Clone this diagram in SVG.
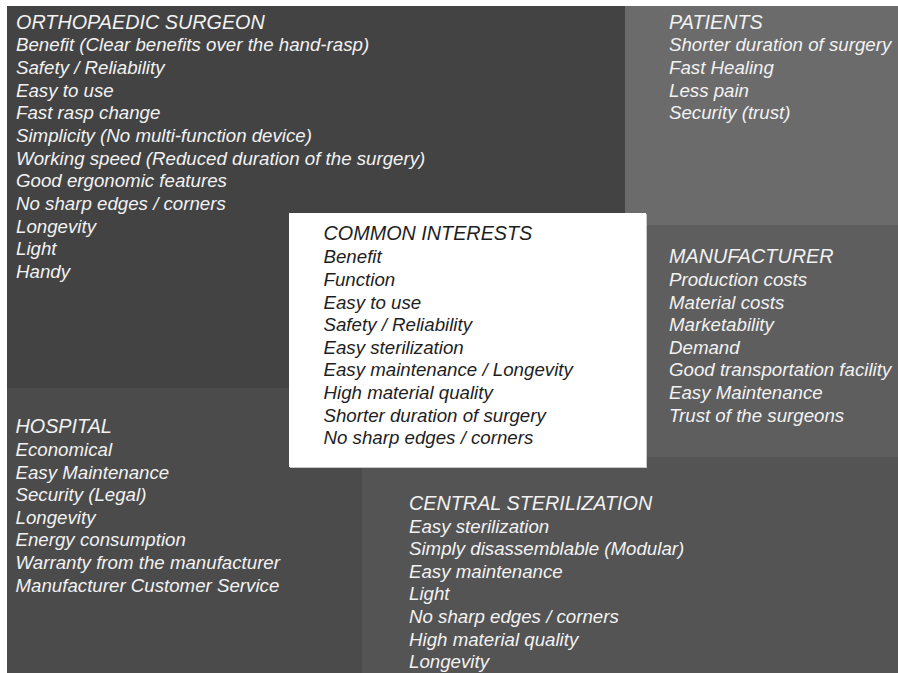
<svg xmlns="http://www.w3.org/2000/svg" width="898" height="673" viewBox="0 0 898 673">
<style>
text{font-family:"Liberation Sans",Arial,Helvetica,sans-serif;font-style:italic;font-size:18.7px;}
.lt{fill:#f2f2f2;}
.dk{fill:#1e1e1e;}
.ttl{font-size:19.8px;}
</style>
<rect x="0" y="0" width="898" height="673" fill="#ffffff"/>
<g id="orthopaedic-surgeon">
<rect x="7" y="6" width="618" height="382" fill="#434343"/>
<text class="lt ttl" x="16" y="28.5">ORTHOPAEDIC SURGEON</text>
<text class="lt" x="16" y="51.3">Benefit (Clear benefits over the hand-rasp)</text>
<text class="lt" x="16" y="74">Safety / Reliability</text>
<text class="lt" x="16" y="96.6">Easy to use</text>
<text class="lt" x="16" y="119.3">Fast rasp change</text>
<text class="lt" x="16" y="141.9">Simplicity (No multi-function device)</text>
<text class="lt" x="16" y="164.6">Working speed (Reduced duration of the surgery)</text>
<text class="lt" x="16" y="187.2">Good ergonomic features</text>
<text class="lt" x="16" y="209.9">No sharp edges / corners</text>
<text class="lt" x="16" y="232.5">Longevity</text>
<text class="lt" x="16" y="255.2">Light</text>
<text class="lt" x="16" y="277.8">Handy</text>
</g>
<g id="patients">
<rect x="625" y="6" width="273" height="219" fill="#6b6b6b"/>
<text class="lt ttl" x="669" y="28.5">PATIENTS</text>
<text class="lt" x="669" y="51.3">Shorter duration of surgery</text>
<text class="lt" x="669" y="74">Fast Healing</text>
<text class="lt" x="669" y="96.6">Less pain</text>
<text class="lt" x="669" y="119.3">Security (trust)</text>
</g>
<g id="hospital">
<rect x="7" y="388" width="355" height="285" fill="#4b4b4b"/>
<text class="lt ttl" x="15.5" y="433.3">HOSPITAL</text>
<text class="lt" x="15.5" y="456">Economical</text>
<text class="lt" x="15.5" y="478.6">Easy Maintenance</text>
<text class="lt" x="15.5" y="501.2">Security (Legal)</text>
<text class="lt" x="15.5" y="523.8">Longevity</text>
<text class="lt" x="15.5" y="546.4">Energy consumption</text>
<text class="lt" x="15.5" y="569">Warranty from the manufacturer</text>
<text class="lt" x="15.5" y="591.6">Manufacturer Customer Service</text>
</g>
<g id="central-sterilization">
<rect x="362" y="388" width="536" height="285" fill="#545454"/>
<text class="lt ttl" x="409" y="510">CENTRAL STERILIZATION</text>
<text class="lt" x="409" y="532.5">Easy sterilization</text>
<text class="lt" x="409" y="555.1">Simply disassemblable (Modular)</text>
<text class="lt" x="409" y="577.7">Easy maintenance</text>
<text class="lt" x="409" y="600.3">Light</text>
<text class="lt" x="409" y="622.9">No sharp edges / corners</text>
<text class="lt" x="409" y="645.5">High material quality</text>
<text class="lt" x="409" y="668.1">Longevity</text>
</g>
<g id="manufacturer">
<rect x="625" y="225" width="273" height="232" fill="#5e5e5e"/>
<text class="lt ttl" x="669" y="263.3">MANUFACTURER</text>
<text class="lt" x="669" y="286">Production costs</text>
<text class="lt" x="669" y="308.6">Material costs</text>
<text class="lt" x="669" y="331.2">Marketability</text>
<text class="lt" x="669" y="353.8">Demand</text>
<text class="lt" x="669" y="376.4">Good transportation facility</text>
<text class="lt" x="669" y="399">Easy Maintenance</text>
<text class="lt" x="669" y="421.6">Trust of the surgeons</text>
</g>
<g id="common-interests">
<rect x="290" y="214" width="357" height="254" fill="#c8c8c8"/>
<rect x="289" y="213" width="357" height="254" fill="#ffffff"/>
<text class="dk ttl" x="323.5" y="240">COMMON INTERESTS</text>
<text class="dk" x="323.5" y="263.3">Benefit</text>
<text class="dk" x="323.5" y="286">Function</text>
<text class="dk" x="323.5" y="308.6">Easy to use</text>
<text class="dk" x="323.5" y="331.2">Safety / Reliability</text>
<text class="dk" x="323.5" y="353.8">Easy sterilization</text>
<text class="dk" x="323.5" y="376.4">Easy maintenance / Longevity</text>
<text class="dk" x="323.5" y="399">High material quality</text>
<text class="dk" x="323.5" y="421.6">Shorter duration of surgery</text>
<text class="dk" x="323.5" y="444.2">No sharp edges / corners</text>
</g>
</svg>
